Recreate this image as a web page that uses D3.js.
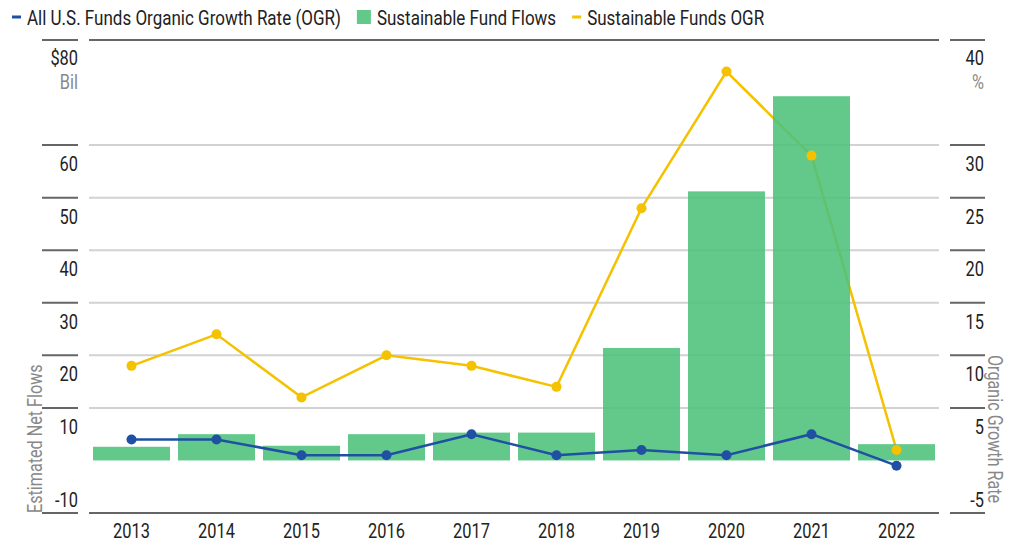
<!DOCTYPE html>
<html>
<head>
<meta charset="utf-8">
<title>Sustainable fund flows and OGR</title>
<script src="https://d3js.org/d3.v7.min.js"></script>
<style>
  body { margin: 0; background: #fff; }
  text { font-family: Roboto, "Liberation Sans", sans-serif; }
</style>
</head>
<body>
<script>
// data
var years = ["2013", "2014", "2015", "2016", "2017", "2018", "2019", "2020", "2021", "2022"];
var flows = [2.6, 5.0, 2.8, 5.0, 5.3, 5.3, 21.4, 51.2, 69.3, 3.1];       // $ Bil
var allOgr = [2.0, 2.0, 0.5, 0.5, 2.5, 0.5, 1.0, 0.5, 2.5, -0.5];        // %
var susOgr = [9.0, 12.0, 6.0, 10.0, 9.0, 7.0, 24.0, 37.0, 29.0, 1.0];    // %
var leftTicks = [60, 50, 40, 30, 20, 10];
var rightTicks = [30, 25, 20, 15, 10, 5];

var width = 1024, height = 545;
var mLeft = 89, mRight = 939, mTop = 40, mBottom = 513;

var svg = d3.select("body").append("svg")
  .attr("width", width)
  .attr("height", height);

var x = d3.scaleBand().domain(years).range([mLeft, mRight])
  .paddingInner(0.094).paddingOuter(0.047);
var yL = d3.scaleLinear().domain([-10, 80]).range([mBottom, mTop]);
var yR = d3.scaleLinear().domain([-5, 40]).range([mBottom, mTop]);

var green = "#4cc17a", blue = "#1f50a3", yellow = "#f4c200";
var dark = "#666", light = "#d2d2d2";

// text squeezed horizontally to get the condensed look of the original
function label(g, px, py, txt, anchor, color, size, rot, sq) {
  return g.append("text")
    .attr("transform", "translate(" + px + "," + py + ")" + (rot ? " rotate(" + rot + ")" : "") + " scale(" + (sq || 0.78) + ",1)")
    .attr("text-anchor", anchor || "start")
    .attr("fill", color || "#222")
    .attr("font-size", size || 21)
    .text(txt);
}

// gridlines
svg.append("g").selectAll("line")
  .data(leftTicks)
  .enter().append("line")
  .attr("x1", mLeft).attr("x2", mRight)
  .attr("y1", d => yL(d)).attr("y2", d => yL(d))
  .attr("stroke", light).attr("stroke-width", 2);

// top / bottom frame lines
[80, -10].forEach(function(v) {
  svg.append("line")
    .attr("x1", mLeft).attr("x2", mRight)
    .attr("y1", yL(v)).attr("y2", yL(v))
    .attr("stroke", dark).attr("stroke-width", 2);
});

// left tick marks + labels
svg.append("g").selectAll("line")
  .data(leftTicks.concat([80, -10])).enter().append("line")
  .attr("x1", 42).attr("x2", 78)
  .attr("y1", d => yL(d)).attr("y2", d => yL(d))
  .attr("stroke", dark).attr("stroke-width", 2);

var gl = svg.append("g");
leftTicks.forEach(function(d) { label(gl, 78, yL(d) + 26, d, "end"); });
label(gl, 78, yL(-10) - 6, "-10", "end");
label(gl, 78, yL(80) + 25, "$80", "end");
label(gl, 78, yL(80) + 49, "Bil", "end", "#888");

// right tick marks + labels
svg.append("g").selectAll("line")
  .data(rightTicks.concat([40, -5])).enter().append("line")
  .attr("x1", 950).attr("x2", 985)
  .attr("y1", d => yR(d)).attr("y2", d => yR(d))
  .attr("stroke", dark).attr("stroke-width", 2);

var gr = svg.append("g");
rightTicks.forEach(function(d) { label(gr, 984, yR(d) + 26, d, "end"); });
label(gr, 984, yR(-5) - 6, "-5", "end");
label(gr, 984, yR(40) + 25, "40", "end");
label(gr, 984, yR(40) + 49, "%", "end", "#888");

// axis titles
label(svg, 42, mBottom, "Estimated Net Flows", "start", "#888", 21, -90, 0.77);
label(svg, 988, 355, "Organic Growth Rate", "start", "#888", 21, 90, 0.77);

// year labels
var gx = svg.append("g");
years.forEach(function(d) { label(gx, x(d) + x.bandwidth() / 2, 538, d, "middle"); });

var line = d3.line()
  .x((d, i) => x(years[i]) + x.bandwidth() / 2)
  .y(d => yR(d));

// sustainable OGR line (under the bars)
svg.append("path")
  .datum(susOgr)
  .attr("d", line)
  .attr("fill", "none").attr("stroke", yellow).attr("stroke-width", 2.5);

// bars
svg.append("g").selectAll("rect")
  .data(flows).enter().append("rect")
  .attr("x", (d, i) => x(years[i]))
  .attr("width", x.bandwidth())
  .attr("y", d => yL(Math.max(d, 0)))
  .attr("height", d => Math.abs(yL(d) - yL(0)))
  .attr("fill", green).attr("fill-opacity", 0.88);

// all funds OGR line
svg.append("path")
  .datum(allOgr)
  .attr("d", line)
  .attr("fill", "none").attr("stroke", blue).attr("stroke-width", 2.5);

svg.append("g").selectAll("circle")
  .data(susOgr).enter().append("circle")
  .attr("cx", (d, i) => x(years[i]) + x.bandwidth() / 2)
  .attr("cy", d => yR(d)).attr("r", 5).attr("fill", yellow);

svg.append("g").selectAll("circle")
  .data(allOgr).enter().append("circle")
  .attr("cx", (d, i) => x(years[i]) + x.bandwidth() / 2)
  .attr("cy", d => yR(d)).attr("r", 5).attr("fill", blue);

// legend, laid out left to right
var legendItems = [
  { name: "All U.S. Funds Organic Growth Rate (OGR)", color: blue, kind: "line" },
  { name: "Sustainable Fund Flows", color: green, kind: "box" },
  { name: "Sustainable Funds OGR", color: yellow, kind: "line" }
];
var lg = svg.append("g");
var lx = 12, lsq = 0.81;
legendItems.forEach(function(it) {
  if (it.kind === "line") {
    lg.append("rect").attr("x", lx).attr("y", 15.5).attr("width", 9).attr("height", 3).attr("fill", it.color);
    lx += 15;
  } else {
    lg.append("rect").attr("x", lx).attr("y", 10).attr("width", 14).attr("height", 14)
      .attr("fill", it.color).attr("fill-opacity", 0.88);
    lx += 20;
  }
  var t = label(lg, lx, 25, it.name, "start", "#222", 21, 0, lsq);
  lx += t.node().getComputedTextLength() * lsq + 16;
});
</script>
</body>
</html>
